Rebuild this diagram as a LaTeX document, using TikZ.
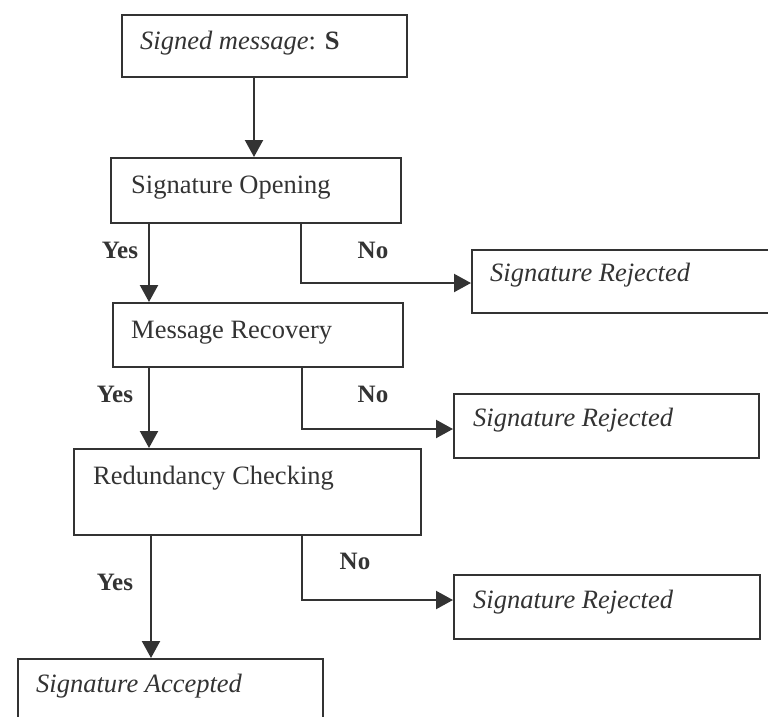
\documentclass[tikz,border=0pt]{standalone}
\usepackage{fontspec}
\setmainfont{Liberation Serif}
\usetikzlibrary{arrows.meta}
\definecolor{ink}{HTML}{333333}
\begin{document}
\begin{tikzpicture}[x=1pt,y=-1pt,
  box/.style={draw=ink, line width=2.2pt, inner sep=0pt, anchor=north west},
  txt/.style={anchor=west, inner sep=0pt, text=ink, font=\fontsize{26.5}{31}\selectfont},
  lbl/.style={inner sep=0pt, text=ink, font=\fontsize{25}{30}\selectfont\bfseries},
  link/.style={draw=ink, line width=2.2pt, -{Triangle[length=17pt,width=18pt]}}]
\useasboundingbox (0,0) rectangle (768,716);
\clip (0,0) rectangle (768,716);

% process boxes
\node[box, minimum width=285pt, minimum height=62pt] (b1) at (121,14) {};
\node[box, minimum width=290pt, minimum height=65pt] (b2) at (110,157) {};
\node[box, minimum width=290pt, minimum height=64pt] (b3) at (112,302) {};
\node[box, minimum width=347pt, minimum height=86pt] (b4) at (73,448) {};
\node[box, minimum width=305pt, minimum height=90pt] (b5) at (17,658) {};

% rejection boxes
\node[box, minimum width=320pt, minimum height=63pt] (r1) at (471,249) {};
\node[box, minimum width=305pt, minimum height=64pt] (r2) at (453,393) {};
\node[box, minimum width=306pt, minimum height=64pt] (r3) at (453,574) {};

% box texts
\node[txt] (t1) at (140,43) {\textit{Signed message}: \textbf{S}};
\node[txt] (t2) at (131,188) {Signature Opening};
\node[txt] (t3) at (131,333) {Message Recovery};
\node[txt] (t4) at (93,478) {Redundancy Checking};
\node[txt] (t5) at (36,686) {\textit{Signature Accepted}};
\node[txt] (tr1) at (490,275) {\textit{Signature Rejected}};
\node[txt] (tr2) at (473,420) {\textit{Signature Rejected}};
\node[txt] (tr3) at (473,602) {\textit{Signature Rejected}};

% branch points
\coordinate (c1) at (301,283);
\coordinate (c2) at (302,429);
\coordinate (c3) at (302,600);

% main flow
\draw[link] (b1.south -| 254,0) -- (b2.north -| 254,0);
\draw[link] (b2.south -| 149,0) -- (b3.north -| 149,0);
\draw[link] (b3.south -| 149,0) -- (b4.north -| 149,0);
\draw[link] (b4.south -| 151,0) -- (b5.north -| 151,0);

% rejection branches
\draw[link] (b2.south -| c1) -- (c1) -- (r1.west |- c1);
\draw[link] (b3.south -| c2) -- (c2) -- (r2.west |- c2);
\draw[link] (b4.south -| c3) -- (c3) -- (r3.west |- c3);

% branch labels
\node[lbl] (y1) at (120,250) {Yes};
\node[lbl] (n1) at (373,250) {No};
\node[lbl] (y2) at (115,394) {Yes};
\node[lbl] (n2) at (373,394) {No};
\node[lbl] (y3) at (115,582) {Yes};
\node[lbl] (n3) at (355,561) {No};
\end{tikzpicture}
\end{document}
